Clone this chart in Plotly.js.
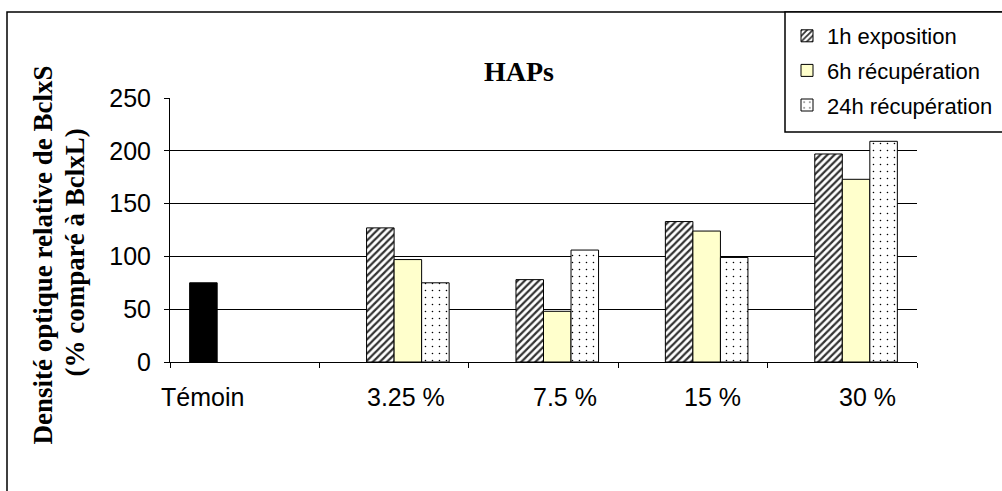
<!DOCTYPE html>
<html>
<head>
<meta charset="utf-8">
<script src="https://cdn.plot.ly/plotly-3.0.1.min.js"></script>
<style>html,body{margin:0;padding:0;background:#fff;}#chart{width:1002px;height:491px;}</style>
</head>
<body>
<div id="chart"></div>
<script>
const categories = ["Témoin", "3.25 %", "7.5 %", "15 %", "30 %"];
const temoinValues = [75, null, null, null, null];
const exposition1h = [null, 127, 78, 133, 197];
const recuperation6h = [null, 97, 48, 124, 173];
const recuperation24h = [null, 75, 106, 99, 209];
const seriesNames = ["1h exposition", "6h récupération", "24h récupération"];
const yTicks = [0, 50, 100, 150, 200, 250];
const yTitleLines = ["Densité optique relative de BclxS", "(% comparé à BclxL)"];

const L = 170, R = 917, T = 98, B = 362;
const W = 1002, H = 491;
const px = x => (x - L) / (R - L);
const py = y => (B - y) / (B - T);
const labelShift = [-42, 12, 21, 20, 25];

const traces = [
  {type: 'bar', x: categories, y: temoinValues, name: 'Témoin', showlegend: false,
   marker: {color: '#000000', line: {color: '#000000', width: 1}}},
  {type: 'bar', x: categories, y: exposition1h, name: seriesNames[0], legendgroup: 'a',
   marker: {color: '#ffffff', line: {color: '#000000', width: 1},
            pattern: {shape: '/', fgcolor: '#333333', bgcolor: '#ffffff', size: 5, solidity: 0.45}}},
  {type: 'bar', x: categories, y: recuperation6h, name: seriesNames[1], legendgroup: 'b',
   marker: {color: '#ffffcc', line: {color: '#000000', width: 1}}},
  {type: 'bar', x: categories, y: recuperation24h, name: seriesNames[2], legendgroup: 'c',
   marker: {color: '#ffffff', line: {color: '#000000', width: 1},
            pattern: {shape: '.', fgcolor: '#000000', bgcolor: '#ffffff', size: 7, solidity: 0.04}}}
];

const tickFont = {size: 25, family: 'Liberation Sans, Arial, sans-serif', color: '#000000'};
const serifBold = size => ({family: 'Liberation Serif, Times New Roman, serif', size: size, color: '#000000'});

const annotations = [
  {text: '<b>HAPs</b>', xref: 'paper', yref: 'paper', x: px(519), y: py(71), xanchor: 'center', yanchor: 'middle',
   showarrow: false, font: serifBold(28)},
  {text: '<b>' + yTitleLines[0] + '</b>', xref: 'paper', yref: 'paper',
   x: px(42.5), y: py(255), xanchor: 'center', yanchor: 'middle', textangle: -90, showarrow: false, font: serifBold(27)},
  {text: '<b>' + yTitleLines[1] + '</b>', xref: 'paper', yref: 'paper',
   x: px(74.5), y: py(253), xanchor: 'center', yanchor: 'middle', textangle: -90, showarrow: false, font: serifBold(27)}
];
categories.forEach((c, i) => {
  annotations.push({text: c, xref: 'x', yref: 'paper', x: c, y: py(397), xanchor: 'center', yanchor: 'middle',
                    xshift: labelShift[i], showarrow: false, font: tickFont});
});

const layout = {
  width: W, height: H,
  margin: {l: L, r: W - R, t: T, b: H - B, pad: 0, autoexpand: false},
  paper_bgcolor: '#ffffff', plot_bgcolor: '#ffffff',
  barmode: 'group', bargap: 0.263, bargroupgap: 0,
  font: {family: 'Liberation Sans, Arial, sans-serif', color: '#000000'},
  xaxis: {type: 'category', categoryarray: categories, categoryorder: 'array',
          range: [-0.5, categories.length - 0.5], autorange: false,
          showline: true, linecolor: '#000000', linewidth: 1,
          ticks: 'outside', tickson: 'boundaries', ticklen: 5, tickcolor: '#000000',
          showticklabels: false, showgrid: false, fixedrange: true, automargin: false},
  yaxis: {range: [0, 250], tickvals: yTicks, showgrid: true, gridcolor: '#000000', gridwidth: 1,
          zeroline: false, showline: true, linecolor: '#000000', linewidth: 1,
          ticks: 'outside', ticklen: 5, tickcolor: '#000000', automargin: false,
          tickfont: tickFont, ticklabelstandoff: 8, fixedrange: true},
  showlegend: true,
  legend: {x: px(787), y: py(15), xanchor: 'left', yanchor: 'top',
           bgcolor: 'rgba(0,0,0,0)', borderwidth: 0, traceorder: 'grouped', tracegroupgap: 3,
           font: {size: 22, family: 'Liberation Sans, Arial, sans-serif', color: '#000000'}},
  shapes: [
    {type: 'rect', xref: 'paper', yref: 'paper', x0: px(7), x1: px(1010), y0: py(520), y1: py(12),
     line: {color: '#000000', width: 1.5}, fillcolor: 'rgba(0,0,0,0)', layer: 'below'},
    {type: 'rect', xref: 'paper', yref: 'paper', x0: px(785), x1: px(1010), y0: py(132), y1: py(12),
     line: {color: '#000000', width: 1.5}, fillcolor: '#ffffff', layer: 'above'}
  ],
  annotations: annotations
};

Plotly.newPlot('chart', traces, layout, {staticPlot: true, displayModeBar: false});
</script>
</body>
</html>
